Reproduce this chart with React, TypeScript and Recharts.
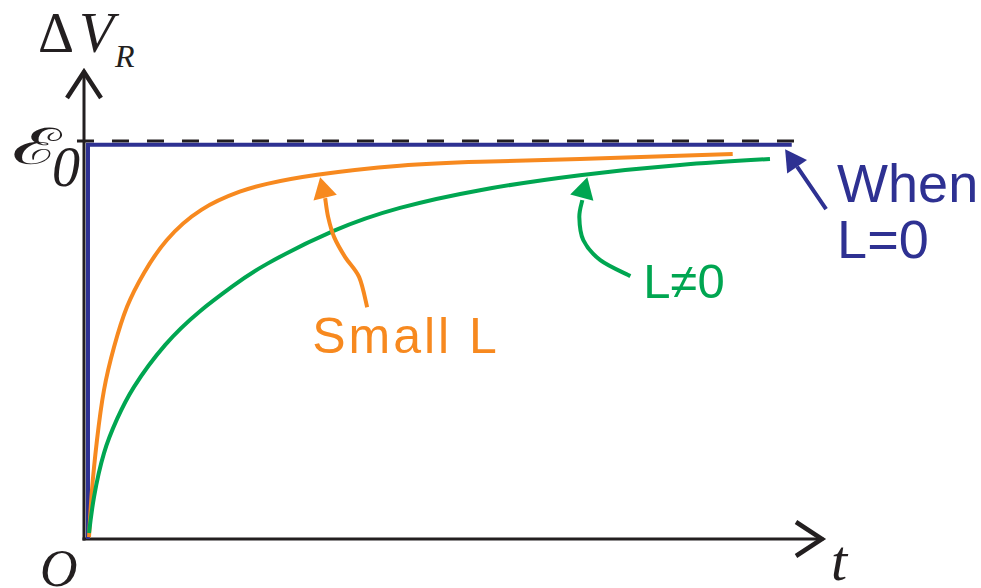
import { LineChart, Line, XAxis, YAxis, ReferenceLine, ReferenceDot } from "recharts";

// time axis runs 0..100, voltage is in units of the emf (1 = full emf)
const smallLTime = [0.68, 1.08, 1.76, 2.71, 4.07, 5.83, 8.13, 11.2, 15.9, 21.1, 24.8, 31.6, 42.8, 53.7, 67.2, 87.9];
const smallLVolt = [0.005, 0.124, 0.251, 0.378, 0.487, 0.589, 0.675, 0.758, 0.835, 0.881, 0.901, 0.924, 0.947, 0.957, 0.964, 0.977];

const largeLTime = [0.68, 1.36, 2.71, 4.47, 6.78, 10.98, 15.72, 20.19, 24.8, 33.74, 42.82, 53.66, 67.21, 80.76, 92.95];
const largeLVolt = [0.015, 0.107, 0.218, 0.304, 0.386, 0.492, 0.578, 0.642, 0.698, 0.781, 0.84, 0.885, 0.923, 0.949, 0.964];

const noLTime = [0.54, 0.54, 95.9];
const noLVolt = [0, 1, 1];

const emf = 1.01;

const BLUE = "#2e3192";
const ORANGE = "#f7891f";
const GREEN = "#00a651";
const INK = "#231f20";
const SANS = "'Liberation Sans', Arial, sans-serif";
const SERIF = "'Liberation Serif', 'Times New Roman', serif";

const toRows = (ts: number[], vs: number[]) => ts.map((t, i) => ({ t, v: vs[i] }));
const smallL = toRows(smallLTime, smallLVolt);
const largeL = toRows(largeLTime, largeLVolt);
const noL = toRows(noLTime, noLVolt);

type Pt = [number, number];

function smoothPath(pts: Pt[]) {
  let d = `M${pts[0][0]},${pts[0][1]}`;
  for (let i = 0; i < pts.length - 1; i++) {
    const p0 = pts[i - 1] || pts[i];
    const p1 = pts[i];
    const p2 = pts[i + 1];
    const p3 = pts[i + 2] || p2;
    const c1 = [p1[0] + (p2[0] - p0[0]) / 6, p1[1] + (p2[1] - p0[1]) / 6];
    const c2 = [p2[0] - (p3[0] - p1[0]) / 6, p2[1] - (p3[1] - p1[1]) / 6];
    d += ` C${c1[0]},${c1[1]} ${c2[0]},${c2[1]} ${p2[0]},${p2[1]}`;
  }
  return d;
}

// curved arrow pointing at (cx, cy) with its caption
function Pointer(props: any) {
  const { cx, cy, color, base, shaft, lines } = props;
  const len = Math.hypot(base[0], base[1]);
  const ux = base[0] / len;
  const uy = base[1] / len;
  const hw = 12;
  const head = [
    [cx, cy],
    [cx + base[0] - uy * hw, cy + base[1] + ux * hw],
    [cx + base[0] + uy * hw, cy + base[1] - ux * hw],
  ]
    .map((p) => p.join(","))
    .join(" ");
  const pts: Pt[] = shaft.map((p: Pt) => [cx + p[0], cy + p[1]]);
  return (
    <g>
      <path d={smoothPath(pts)} fill="none" stroke={color} strokeWidth={4} />
      <polygon points={head} fill={color} />
      {lines.map((l: any, i: number) => (
        <text
          key={i}
          x={cx + l.dx}
          y={cy + l.dy}
          fill={color}
          fontFamily={SANS}
          fontSize={l.size}
          letterSpacing={l.spacing || 0}
        >
          {l.text}
        </text>
      ))}
    </g>
  );
}

function AxisArrow(props: any) {
  const { x1, y1, x2, y2, children } = props;
  const len = Math.hypot(x2 - x1, y2 - y1);
  const ux = (x2 - x1) / len;
  const uy = (y2 - y1) / len;
  const back = 26;
  const hw = 17;
  const a = [x2 - ux * back - uy * hw, y2 - uy * back + ux * hw];
  const b = [x2 - ux * back + uy * hw, y2 - uy * back - ux * hw];
  return (
    <g>
      <line x1={x1} y1={y1} x2={x2} y2={y2} stroke={INK} strokeWidth={3} strokeLinecap="square" />
      <polyline
        points={`${a[0]},${a[1]} ${x2},${y2} ${b[0]},${b[1]}`}
        fill="none"
        stroke={INK}
        strokeWidth={4.5}
        strokeLinejoin="miter"
      />
      {children}
    </g>
  );
}

export default function App() {
  return (
    <div style={{ position: "absolute", left: 0, top: 0, width: 981, height: 588, background: "#fff" }}>
      <LineChart width={981} height={588} margin={{ top: 66, right: 159, bottom: 49, left: 84 }}>
        <XAxis type="number" dataKey="t" domain={[0, 100]} hide allowDataOverflow />
        <YAxis type="number" dataKey="v" domain={[0, 1.2]} hide allowDataOverflow />

        <ReferenceLine
          segment={[{ x: 0, y: 0 }, { x: 0, y: 1.185 }]}
          ifOverflow="visible"
          shape={(p: any) => (
            <AxisArrow {...p} x1={p.x1} y1={p.y1} x2={p.x2} y2={p.y2}>
              <text x={p.x2 - 46} y={p.y2 - 20} fontFamily={SERIF} fontSize={56} fill={INK}>Δ</text>
              <text x={p.x2 - 5} y={p.y2 - 20} fontFamily={SERIF} fontStyle="italic" fontSize={57} fill={INK}>V</text>
              <text x={p.x2 + 31} y={p.y2 - 5} fontFamily={SERIF} fontStyle="italic" fontSize={32} fill={INK}>R</text>
            </AxisArrow>
          )}
        />
        <ReferenceLine
          segment={[{ x: 0, y: 0 }, { x: 100, y: 0 }]}
          ifOverflow="visible"
          shape={(p: any) => (
            <AxisArrow {...p} x1={p.x1} y1={p.y1} x2={p.x2} y2={p.y2}>
              <text x={p.x1 - 44} y={p.y1 + 47} fontFamily={SERIF} fontStyle="italic" fontSize={52} fill={INK}>O</text>
              <text x={p.x2 + 9} y={p.y2 + 41} fontFamily={SERIF} fontStyle="italic" fontSize={58} fill={INK}>t</text>
            </AxisArrow>
          )}
        />
        <ReferenceLine
          segment={[{ x: -0.95, y: emf }, { x: 97, y: emf }]}
          ifOverflow="visible"
          shape={(p: any) => (
            <g>
              <line x1={p.x1} y1={p.y1} x2={p.x2} y2={p.y2} stroke={INK} strokeWidth={3} strokeDasharray="17 18" />
              <text
                x={p.x1 - 65}
                y={p.y1 + 23}
                fontFamily={SERIF}
                fontSize={50}
                fill={INK}
                textLength={49}
                lengthAdjust="spacingAndGlyphs"
              >
                ℰ
              </text>
              <text x={p.x1 - 25} y={p.y1 + 45} fontFamily={SERIF} fontStyle="italic" fontSize={56} fill={INK}>0</text>
            </g>
          )}
        />

        <Line data={noL} dataKey="v" type="linear" stroke={BLUE} strokeWidth={4} strokeLinejoin="miter" dot={false} activeDot={false} isAnimationActive={false} />
        <Line data={smallL} dataKey="v" type="natural" stroke={ORANGE} strokeWidth={4} dot={false} activeDot={false} isAnimationActive={false} />
        <Line data={largeL} dataKey="v" type="natural" stroke={GREEN} strokeWidth={4} dot={false} activeDot={false} isAnimationActive={false} />

        <ReferenceDot
          x={32}
          y={0.918}
          ifOverflow="visible"
          shape={(p: any) => (
            <Pointer
              cx={p.cx}
              cy={p.cy}
              color={ORANGE}
              base={[5, 20.5]}
              shaft={[[5, 21], [8, 40], [14, 60], [25, 80], [39, 100], [47, 130]]}
              lines={[{ text: "Small L", dx: -8, dy: 176, size: 50, spacing: 3 }]}
            />
          )}
        />
        <ReferenceDot
          x={68.2}
          y={0.918}
          ifOverflow="visible"
          shape={(p: any) => (
            <Pointer
              cx={p.cx}
              cy={p.cy}
              color={GREEN}
              base={[-5.5, 20.5]}
              shaft={[[-5, 23], [-8, 40], [-4, 63], [13, 83], [43, 99]]}
              lines={[{ text: "L≠0", dx: 56, dy: 121, size: 49 }]}
            />
          )}
        />
        <ReferenceDot
          x={95}
          y={0.989}
          ifOverflow="visible"
          shape={(p: any) => (
            <Pointer
              cx={p.cx}
              cy={p.cy}
              color={BLUE}
              base={[12, 17.5]}
              shaft={[[12, 17.5], [41, 60]]}
              lines={[
                { text: "When", dx: 52, dy: 53, size: 54 },
                { text: "L=0", dx: 52, dy: 109, size: 54 },
              ]}
            />
          )}
        />
      </LineChart>
    </div>
  );
}
